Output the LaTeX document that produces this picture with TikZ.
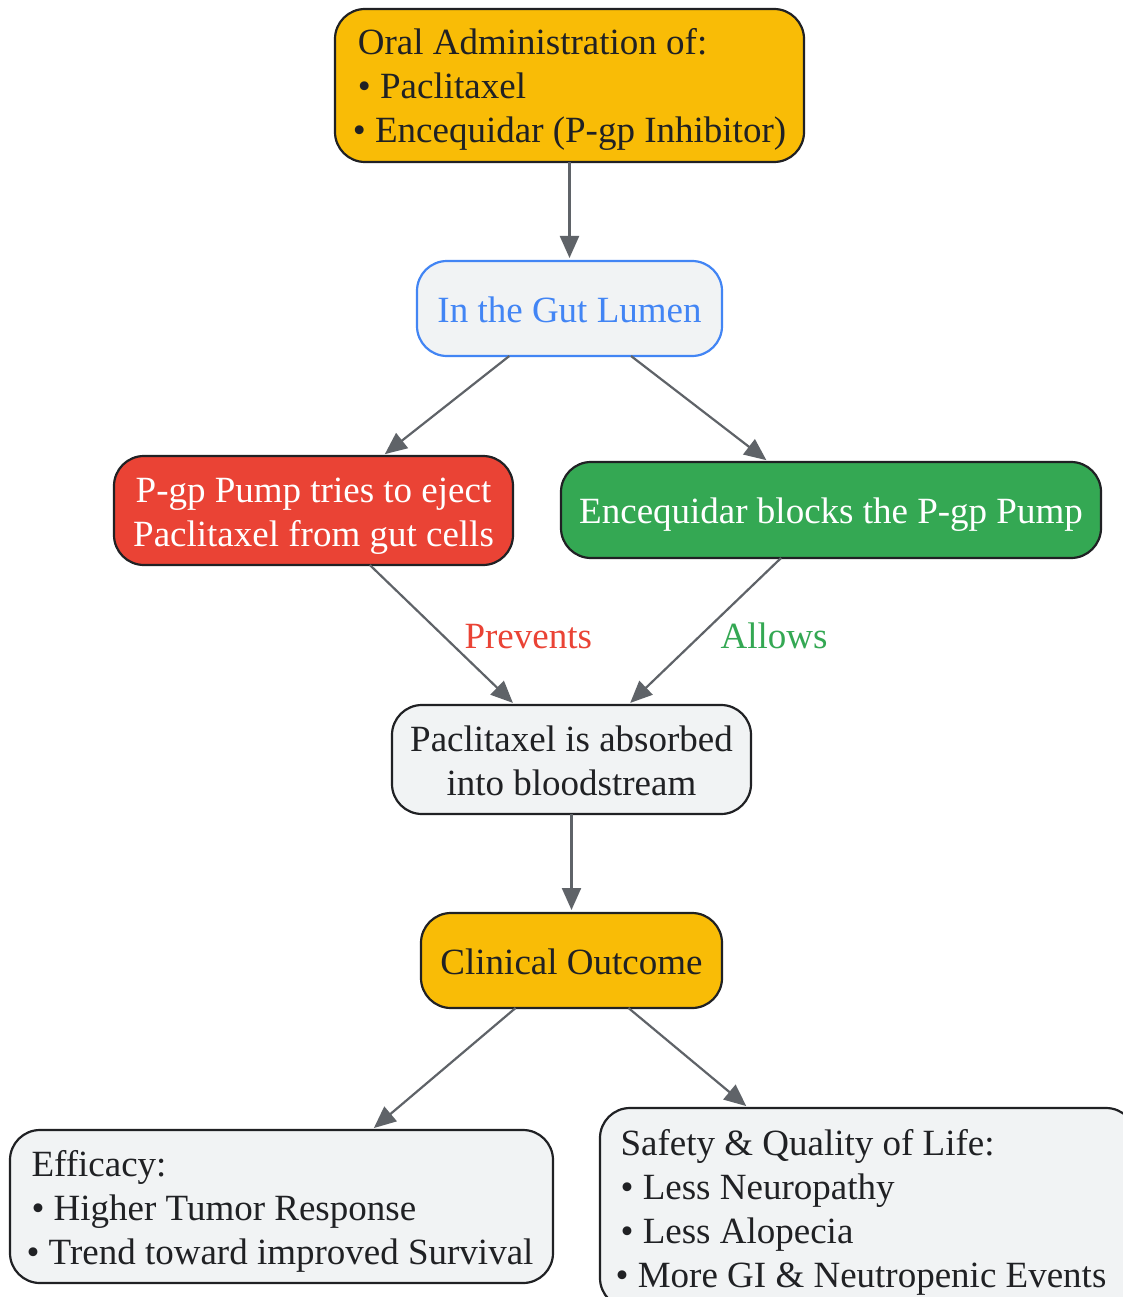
\documentclass[tikz,border=0pt]{standalone}
\usepackage{fontspec}
\setmainfont{Liberation Serif}
\usetikzlibrary{arrows.meta}
\definecolor{gyellow}{HTML}{F9BC06}
\definecolor{gred}{HTML}{EA4335}
\definecolor{ggreen}{HTML}{34A853}
\definecolor{gblue}{HTML}{4285F4}
\definecolor{gfill}{HTML}{F1F3F4}
\definecolor{garrow}{HTML}{5F6368}
\definecolor{gdark}{HTML}{202124}
\newcommand\lstr{\rule[-8.5pt]{0pt}{44pt}}
\newcommand\ind{\hspace*{5pt}}
\tikzset{
  box/.style={draw=gdark, line width=2.2pt, rounded corners=30pt, inner sep=0pt, outer sep=0pt,
    font=\fontsize{37}{44}\selectfont, text=gdark, align=center},
  leftbox/.style={box, align=left},
  conn/.style={draw=garrow, line width=2.2pt, -{Triangle[length=22pt,width=19pt]}, shorten >=3pt},
  lbl/.style={font=\fontsize{37}{44}\selectfont, anchor=west, inner sep=0pt}
}
\begin{document}
\begin{tikzpicture}[x=1pt,y=-1pt]
\useasboundingbox (0,0) rectangle (1123,1297);
\clip (0,0) rectangle (1123,1297);
\fill[white] (0,0) rectangle (1123,1297);
\node[leftbox, fill=gyellow, minimum width=469pt, minimum height=153pt] (oral) at (569.5,85.5)
  {\lstr\ind Oral Administration of:\\\ind• Paclitaxel\\• Encequidar (P-gp Inhibitor)\lstr};
\node[box, fill=gfill, draw=gblue, text=gblue, minimum width=305pt, minimum height=95pt] (gut) at (569.5,308.5)
  {\lstr In the Gut Lumen\lstr};
\node[box, fill=gred, text=white, minimum width=399pt, minimum height=109pt] (pump) at (313.5,510.5)
  {\lstr P-gp Pump tries to eject\\Paclitaxel from gut cells\lstr};
\node[box, fill=ggreen, text=white, minimum width=540pt, minimum height=96pt] (block) at (831,510)
  {\lstr Encequidar blocks the P-gp Pump\lstr};
\node[box, fill=gfill, minimum width=359pt, minimum height=109pt] (abs) at (571.5,759.5)
  {\lstr Paclitaxel is absorbed\\into bloodstream\lstr};
\node[box, fill=gyellow, minimum width=301pt, minimum height=95pt] (clin) at (571.5,960.5)
  {\lstr Clinical Outcome\lstr};
\node[leftbox, fill=gfill, minimum width=543pt, minimum height=153pt] (eff) at (281.5,1206.5)
  {\lstr\hspace*{-3pt}\ind Efficacy:\\\hspace*{-3pt}\ind• Higher Tumor Response\\\hspace*{-3pt}• Trend toward improved Survival\lstr};
\node[leftbox, fill=gfill, minimum width=536pt, minimum height=200pt] (safe) at (868,1208)
  {\lstr\hspace*{-14pt}\ind Safety \& Quality of Life:\\\hspace*{-14pt}\ind• Less Neuropathy\\\hspace*{-14pt}\ind• Less Alopecia\\\hspace*{-14pt}• More GI \& Neutropenic Events\lstr};
\draw[conn] (oral) -- (gut);
\draw[conn] (gut) -- (pump);
\draw[conn] (gut) -- (block);
\draw[conn] (pump) -- node[lbl, text=gred, pos=0.5, xshift=21pt] (lp) {\lstr Prevents\lstr} (abs);
\draw[conn] (block) -- node[lbl, text=ggreen, pos=0.5, xshift=15pt, yshift=-3pt] (la) {\lstr Allows\lstr} (abs);
\draw[conn] (abs) -- (clin);
\draw[conn] (clin) -- (eff);
\draw[conn] (clin) -- (safe);
\end{tikzpicture}
\end{document}
